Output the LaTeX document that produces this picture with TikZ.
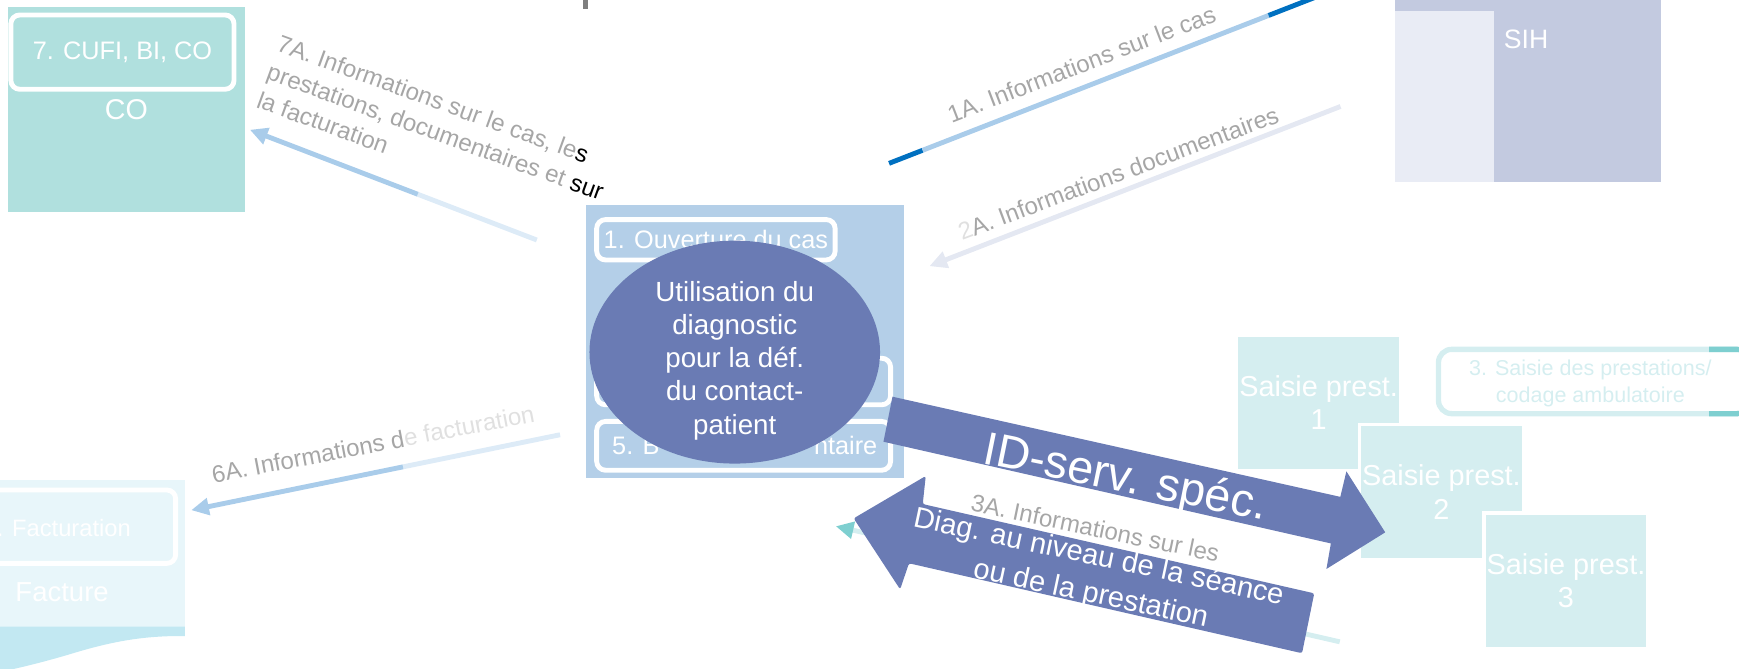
\documentclass[tikz,border=0pt]{standalone}
\usepackage{fontspec}
\setmainfont{Liberation Sans}
\usetikzlibrary{arrows.meta,calc,shapes.geometric}
\definecolor{cobox}{HTML}{B0E0DE}
\definecolor{ctrbox}{HTML}{B4CFE8}
\definecolor{ellcol}{HTML}{6A7BB4}
\definecolor{arrlight}{HTML}{A9CCEA}
\definecolor{arrfade}{HTML}{DDEBF7}
\definecolor{darkblue}{HTML}{0070C0}
\definecolor{sihout}{HTML}{C3CAE0}
\definecolor{sihin}{HTML}{E9ECF5}
\definecolor{saisie}{HTML}{D5EEF0}
\definecolor{tealdark}{HTML}{7ECFD0}
\definecolor{factbg}{HTML}{E8F6FA}
\definecolor{factband}{HTML}{C2E8F2}
\definecolor{labgray}{HTML}{A6A6A6}
\definecolor{labfade}{HTML}{E0E0E0}
\definecolor{docline}{HTML}{E4E8F2}
\definecolor{titlegray}{HTML}{7F7F7F}
\newcommand\fsz[2]{\fontsize{#1pt}{#2pt}\selectfont}
\begin{document}
\begin{tikzpicture}[x=0.5pt,y=-0.5pt,
  every node/.style={inner sep=0pt, outer sep=0pt},
  whiteframe/.style={draw=white, line width=2.2pt, rounded corners=4pt},
  lbl/.style={text=labgray, font=\fsz{10.85}{13.5}},
  flow/.style={line width=2.2pt},
  head/.style={-{Triangle[length=8pt,width=7.5pt]}},
  sbox/.style={fill=saisie, draw=white, line width=1.5pt, minimum width=74pt, minimum height=61pt,
    text=white, align=center, font=\fsz{13}{15}},
]
\useasboundingbox (0,0) rectangle (1568,603);
\clip (0,0) rectangle (1568,603);

% title fragment
\node[fill=titlegray, minimum width=2.5pt, minimum height=6pt] (title) at (528,2) {};

% CO
\node[fill=cobox, minimum width=107pt, minimum height=92.5pt] (co) at (114,98.5) {};
\node[whiteframe, minimum width=100.6pt, minimum height=33.5pt, text=white, font=\fsz{11.4}{13}] (cufi) at (110.4,47) {7. CUFI, BI, CO};
\node[text=white, font=\fsz{12.9}{15}] (cotxt) at (114,99) {CO};

% SIH
\node[fill=sihout, minimum width=120.25pt, minimum height=84.4pt] (sih) at (1377.75,79.4) {};
\node[fill=sihin, minimum width=44.75pt, minimum height=76.95pt] (sihin) at (1302.25,86.85) {};
\node[anchor=base west, text=white, font=\fsz{12}{14}] (sihtxt) at (1356,44) {SIH};

% Facture
\node[fill=factbg, minimum width=84.4pt, minimum height=70.1pt] (fact) at (82.4,502.9) {};
\node[whiteframe, minimum width=85.2pt, minimum height=33.1pt] (factin) at (73.2,474.9) {};
\fill[factband] (-2,565) -- (166.8,565) -- (166.8,573.5) .. controls (125,573) and (95,580) .. (60,590.8) .. controls (35,598) and (15,603) .. (-2,606) -- cycle;
\node[anchor=east, text=white, font=\fsz{10.7}{12}] (facttxt) at (118,476.5) {6. Facturation};
\node[text=white, font=\fsz{12.4}{14}] (facture) at (56,533.5) {Facture};

% Saisie boxes
\node[sbox] (s1) at (1189,363) {Saisie prest.\\1};
\node[sbox] (s2) at (1299.7,443.7) {Saisie prest.\\2};
\node[sbox] (s3) at (1412,523.6) {Saisie prest.\\3};
\node[draw=saisie, line width=2.4pt, rounded corners=6pt, minimum width=140.5pt, minimum height=29pt] (prest) at (1437.5,344) {};
\begin{scope}
\clip (1541,300) rectangle (1600,390);
\draw[tealdark, line width=2.4pt, rounded corners=6pt] (prest.north west) rectangle (prest.south east);
\end{scope}
\node[text=saisie, align=center, font=\fsz{9.7}{12}] (presttxt) at (1434,346) {3. Saisie des prestations/\\codage ambulatoire};

% centre
\node[fill=ctrbox, minimum width=143.3pt, minimum height=123.25pt] (ctr) at (671.7,308) {};
\node[whiteframe, minimum width=107.5pt, minimum height=18.2pt, text=white, font=\fsz{11.4}{13}] (ouv) at (645.5,216.2) {1. Ouverture du cas};
\node[whiteframe, minimum width=132.5pt, minimum height=21pt] (mid) at (670.5,344) {};
\node[whiteframe, minimum width=132.5pt, minimum height=22pt] (bil) at (670.5,402) {};
\node[anchor=west, text=white, font=\fsz{11.4}{13}] (biltxta) at (552,402) {5. B};
\node[anchor=east, text=white, font=\fsz{11.4}{13}] (biltxtb) at (791,402) {ntaire};
\node[ellipse, fill=ellcol, minimum width=131pt, minimum height=100.5pt] (ell) at (662.5,317.5) {};
\node[text=white, align=center, font=\fsz{12.5}{15}] (elltxt) at (662.5,325) {Utilisation du\\diagnostic\\pour la déf.\\du contact-\\patient};

% flows
\coordinate (a7s) at (484,216.4);
\coordinate (a7t) at (225.3,117);
\coordinate (a7m) at ($(a7t)!0.585!(a7s)$);
\draw[flow, arrfade] (a7s) -- (a7m);
\draw[flow, arrlight, head] (a7m) -- (a7t);

\coordinate (a6s) at (505,392);
\coordinate (a6t) at (172.4,460);
\coordinate (a6m) at ($(a6t)!0.574!(a6s)$);
\draw[flow, arrfade] (a6s) -- (a6m);
\draw[flow, arrlight, head] (a6m) -- (a6t);

\coordinate (a2s) at (1208.7,96);
\coordinate (a2t) at (838,240);
\draw[flow, docline, head] (a2s) -- (a2t);

\coordinate (a1s) at (801.6,147.3);
\coordinate (a1e) at (1195,-6);
\coordinate (a1p) at ($(a1s)!0.077!(a1e)$);
\coordinate (a1q) at ($(a1s)!0.87!(a1e)$);
\draw[flow, darkblue] (a1s) -- (a1p);
\draw[flow, arrlight] (a1p) -- (a1q);
\draw[flow, darkblue] (a1q) -- (a1e);

\coordinate (a3s) at (1208,578.7);
\coordinate (a3t) at (753.6,474.5);
\draw[flow, saisie, -{Triangle[length=8pt,width=7.5pt,color=tealdark]}] (a3s) -- (a3t);

% ID arrow
\fill[ellcol] (804.7,357.7) -- (1208.5,448) -- (1214,425) -- (1249,480) -- (1196,513) -- (1200,490) -- (796.6,398.3) -- cycle;
\node[anchor=base, rotate=-11.5, text=white, font=\fsz{21}{24}] (idtxt) at (1012.3,443.4) {ID-serv. spéc.};

% Diag arrow
\fill[ellcol, rounded corners=1pt] (769.7,467.4) -- (834.7,429.2) -- (832,454.5) -- (1185,535) -- (1174,589) -- (819.6,507.9) -- (811.6,531.4) -- cycle;
\node[rotate=-12, text=white, align=center, font=\fsz{13.1}{16.9}] (diagtxt) at (987,519.7) {Diag. au niveau de la séance\\ou de la prestation};

% labels
\node[lbl, anchor=base, rotate=21] (l1a) at (978,65) {1A. Informations sur le cas};
\node[lbl, anchor=base, rotate=20.5] (l2a) at (1011,163.5) {{\color{labfade}2}A. Informations documentaires};
\node[lbl, anchor=base, rotate=10.8] (l6a) at (337.8,408) {6A. Informations d{\color{labfade}e facturation}};
\node[lbl, anchor=base, rotate=-11.7] (l3a) at (986,483.8) {3A. Informations sur les};
\node[lbl, anchor=north west, rotate=-20, align=left] (l7a) at (254,31) {7A. Informations sur le cas, le{\color{black}s}\\prestations, documentaires et {\color{black}sur}\\la facturation};
\end{tikzpicture}
\end{document}
